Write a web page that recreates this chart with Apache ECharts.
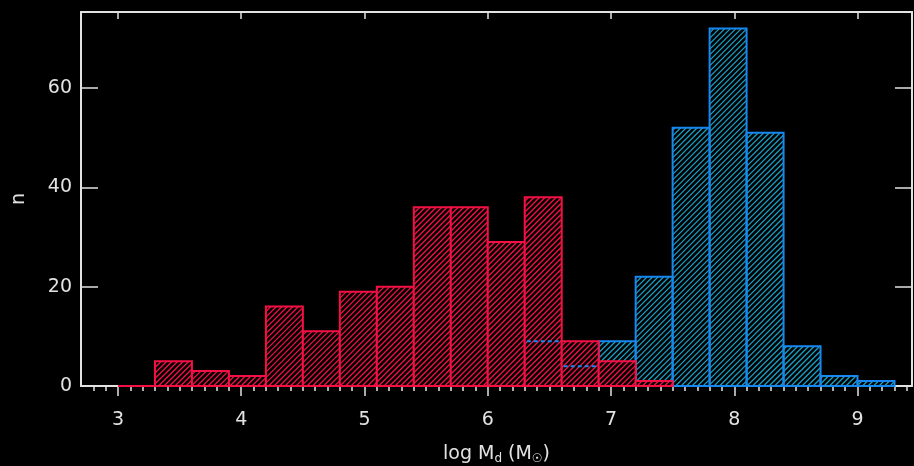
<!DOCTYPE html>
<html>
<head>
<meta charset="utf-8">
<script src="https://cdn.jsdelivr.net/npm/echarts@6/dist/echarts.min.js"></script>
<style>
  html, body { margin: 0; padding: 0; background: #000; }
  #chart-container { width: 914px; height: 466px; }
</style>
</head>
<body>
<div id="chart-container"></div>
<script>
// histogram bins: start in log M_d, width 0.3
var redBinStarts = [3.0, 3.3, 3.6, 3.9, 4.2, 4.5, 4.8, 5.1, 5.4, 5.7, 6.0, 6.3, 6.6, 6.9, 7.2];
var redCounts    = [0,   5,   3,   2,   16,  11,  19,  20,  36,  36,  29,  38,  9,   5,   1];
var blueBinStarts = [6.3, 6.6, 6.9, 7.2, 7.5, 7.8, 8.1, 8.4, 8.7, 9.0];
var blueCounts    = [9,   4,   9,   22,  52,  72,  51,  8,   2,   1];
var binWidth = 0.3;
var xMajorTicks = [3, 4, 5, 6, 7, 8, 9];
var yTicks = [0, 20, 40, 60];

var dom = document.getElementById('chart-container');
var myChart = echarts.init(dom, null, { renderer: 'canvas' });

var axisColor = '#e2e2e2';
var redColor = '#f41044';
var blueColor = '#1688f0';
var blueHatch = '#1aa0c4';
var hatchStep = 5.5;

function toBins(starts, counts) {
  return starts.map(function (s, i) { return [s, s + binWidth, counts[i]]; });
}
var redBins = toBins(redBinStarts, redCounts);
var blueBins = toBins(blueBinStarts, blueCounts);

// blue tops that sit inside red bars, shown dashed
var blueHidden = blueBins.filter(function (b) {
  var j = redBinStarts.indexOf(b[0]);
  return j >= 0 && redCounts[j] > b[2];
});

// rect outline + "/" hatch lines clipped to the rect
function barRender(bg, hatchColor, stroke) {
  return function (params, api) {
    var p0 = api.coord([api.value(0), api.value(2)]);
    var p1 = api.coord([api.value(1), 0]);
    var x0 = p0[0], y0 = p0[1], x1 = p1[0], y1 = p1[1];
    var children = [{
      type: 'rect',
      shape: { x: x0, y: y0, width: x1 - x0, height: y1 - y0 },
      style: { fill: bg, stroke: null }
    }];
    var cStart = Math.ceil((x0 + y0) / hatchStep) * hatchStep;
    for (var c = cStart; c < x1 + y1; c += hatchStep) {
      var xa = Math.max(x0, c - y1), xb = Math.min(x1, c - y0);
      if (xb > xa) {
        children.push({
          type: 'line',
          shape: { x1: xa, y1: c - xa, x2: xb, y2: c - xb },
          style: { stroke: hatchColor, lineWidth: 1.3 }
        });
      }
    }
    children.push({
      type: 'rect',
      shape: { x: x0, y: y0, width: x1 - x0, height: y1 - y0 },
      style: { fill: null, stroke: stroke, lineWidth: 2 }
    });
    return { type: 'group', children: children };
  };
}

var minorTicks = [];
for (var t = 28; t <= 94; t++) {
  if (t % 10 !== 0) minorTicks.push(t / 10);
}

var option = {
  backgroundColor: '#000',
  animation: false,
  grid: { left: 81, top: 12, width: 831, height: 374, outerBoundsMode: 'none', containLabel: false },
  xAxis: [
    {
      type: 'value', min: 2.7, max: 9.442, position: 'bottom',
      axisLine: { show: true, lineStyle: { color: axisColor, width: 2 } },
      axisTick: { show: true, inside: false, length: 10, customValues: xMajorTicks, lineStyle: { color: axisColor, width: 1.5 } },
      axisLabel: { customValues: xMajorTicks, color: axisColor, fontSize: 19, fontFamily: 'DejaVu Sans', margin: 25 },
      splitLine: { show: false },
      name: '{a|log M}{s|d}{a| (M}{s|☉}{a|)}',
      nameLocation: 'middle', nameGap: 57,
      nameTextStyle: {
        rich: {
          a: { color: axisColor, fontSize: 19, fontFamily: 'DejaVu Sans' },
          s: { color: axisColor, fontSize: 12, fontFamily: 'DejaVu Sans', verticalAlign: 'bottom', padding: [10, 0, 0, 0] }
        }
      }
    },
    {
      type: 'value', min: 2.7, max: 9.442, position: 'bottom',
      axisLine: { show: false },
      axisTick: { show: true, inside: false, length: 5, customValues: minorTicks, lineStyle: { color: axisColor, width: 1.5 } },
      axisLabel: { show: false },
      splitLine: { show: false }
    },
    {
      type: 'value', min: 2.7, max: 9.442, position: 'top',
      axisLine: { show: true, lineStyle: { color: axisColor, width: 2 } },
      axisTick: { show: true, inside: true, length: 7, customValues: xMajorTicks, lineStyle: { color: axisColor, width: 1.5 } },
      axisLabel: { show: false },
      splitLine: { show: false }
    }
  ],
  yAxis: [
    {
      type: 'value', min: 0, max: 75.3, position: 'left',
      axisLine: { show: true, lineStyle: { color: axisColor, width: 2 } },
      axisTick: { show: true, inside: true, length: 17, customValues: yTicks, lineStyle: { color: axisColor, width: 1.5 } },
      axisLabel: { customValues: yTicks, color: axisColor, fontSize: 19, fontFamily: 'DejaVu Sans', margin: 9 },
      splitLine: { show: false },
      name: 'n', nameLocation: 'middle', nameGap: 52,
      nameTextStyle: { color: axisColor, fontSize: 19, fontFamily: 'DejaVu Sans' }
    },
    {
      type: 'value', min: 0, max: 75.3, position: 'right',
      axisLine: { show: true, lineStyle: { color: axisColor, width: 2 } },
      axisTick: { show: true, inside: true, length: 17, customValues: yTicks, lineStyle: { color: axisColor, width: 1.5 } },
      axisLabel: { show: false },
      splitLine: { show: false }
    }
  ],
  series: [
    {
      name: 'blue', type: 'custom', z: 3,
      xAxisIndex: 0, yAxisIndex: 0,
      renderItem: barRender('transparent', blueHatch, blueColor),
      encode: { x: [0, 1], y: 2 },
      data: blueBins
    },
    {
      name: 'red', type: 'custom', z: 4,
      xAxisIndex: 0, yAxisIndex: 0,
      renderItem: barRender('#000', redColor, redColor),
      encode: { x: [0, 1], y: 2 },
      data: redBins
    },
    {
      name: 'blue hidden tops', type: 'custom', z: 5,
      xAxisIndex: 0, yAxisIndex: 0,
      renderItem: function (params, api) {
        var p0 = api.coord([api.value(0), api.value(2)]);
        var p1 = api.coord([api.value(1), api.value(2)]);
        return {
          type: 'line',
          shape: { x1: p0[0] + 2, y1: p0[1], x2: p1[0] - 2, y2: p1[1] },
          style: { stroke: blueColor, lineWidth: 2, lineDash: [4, 3] }
        };
      },
      encode: { x: [0, 1], y: 2 },
      data: blueHidden
    }
  ]
};

myChart.setOption(option);
window.addEventListener('resize', myChart.resize);
</script>
</body>
</html>
